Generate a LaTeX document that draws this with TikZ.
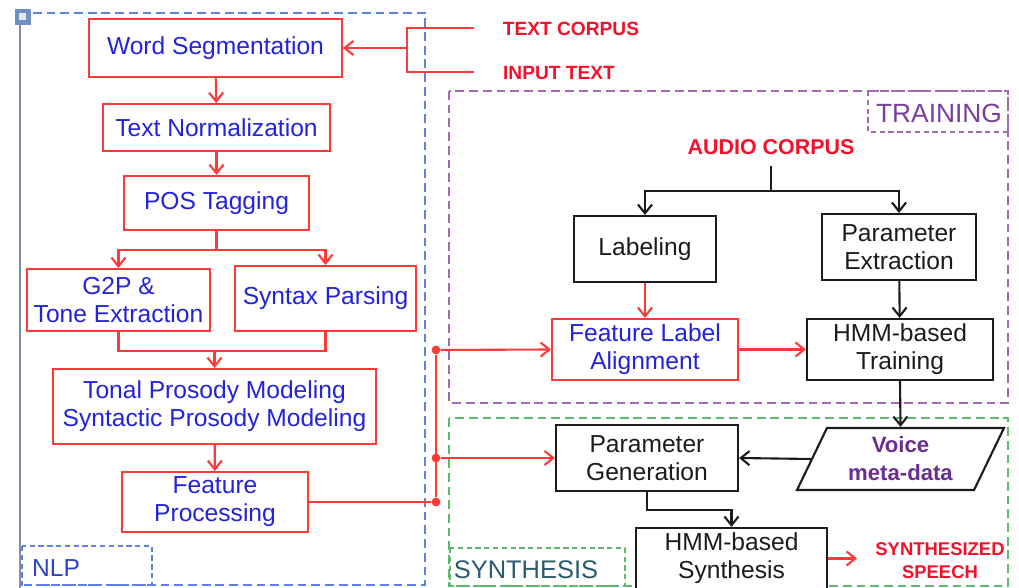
\documentclass[tikz,border=0pt]{standalone}
\usepackage{fontspec}
\setmainfont{Liberation Sans}
\usepackage{xcolor}
\usepackage{tikz}
\usetikzlibrary{positioning, arrows.meta, shapes.geometric, calc}
\definecolor{boxred}{HTML}{FF3838}
\definecolor{boxblue}{HTML}{2323DC}
\definecolor{srcred}{HTML}{F5102A}
\definecolor{nlpdash}{HTML}{5F82E2}
\definecolor{nlpblue}{HTML}{2B44CC}
\definecolor{traindash}{HTML}{A36AB3}
\definecolor{trainpurple}{HTML}{7A3E9D}
\definecolor{synthdash}{HTML}{5DB96B}
\definecolor{synthteal}{HTML}{2A5C6E}
\definecolor{voicepurple}{HTML}{6B2D90}
\definecolor{ink}{HTML}{1C1C1C}
\definecolor{edgegray}{HTML}{7F8EA6}
\definecolor{handle}{HTML}{6C8FC4}

\begin{document}
\begin{tikzpicture}[
  x=0.02cm, y=-0.02cm,
  every node/.style={align=center},
  nlpstep/.style={
    rectangle, draw=boxred, line width=1.1pt, fill=white, text=boxblue,
    font=\fontsize{14}{16}\selectfont, inner sep=0pt
  },
  hmmstep/.style={
    rectangle, draw=ink, line width=1.2pt, fill=white, text=ink,
    font=\fontsize{14}{16}\selectfont, inner sep=0pt
  },
  region/.style={line width=1pt, dash pattern=on 5pt off 2.8pt},
  regiontag/.style={line width=0.8pt, dash pattern=on 3pt off 2pt},
  src/.style={text=srcred, inner sep=1pt},
  redline/.style={draw=boxred, line width=1.2pt},
  redflow/.style={-{Straight Barb[length=5pt,width=8pt]}, redline},
  blkline/.style={draw=ink, line width=1.2pt},
  blkflow/.style={-{Straight Barb[length=5pt,width=8pt]}, blkline},
  busdot/.style={circle, fill=boxred, inner sep=0pt, minimum size=5pt},
]
\useasboundingbox (0,0) rectangle (1019,588);

% regions
\draw[region, draw=nlpdash] (20,13) rectangle (425,585);
\draw[edgegray, line width=1.4pt] (20,20) -- (20,590);
\fill[handle] (15,9) rectangle (31,25);
\fill[white!80!handle] (19,13) rectangle (26,20);
\draw[region, draw=traindash] (449,91) rectangle (1008,403);
\draw[region, draw=synthdash] (449,418) rectangle (1008,586);
\draw[regiontag, draw=nlpdash] (22,546) rectangle (152,585);
\draw[regiontag, draw=traindash] (868,91) rectangle (1008,132);
\draw[regiontag, draw=synthdash] (450,548) rectangle (625,586);
\node[text=nlpblue, font=\fontsize{14}{16}\selectfont] (nlptag) at (56,568) {NLP};
\node[text=trainpurple, font=\fontsize{15}{16}\selectfont] (traintag) at (939,113) {TRAINING};
\node[text=synthteal, font=\fontsize{14.5}{16}\selectfont] (synthtag) at (526,570) {SYNTHESIS};

% NLP front end
\node[nlpstep, minimum width=5.06cm, minimum height=1.16cm] (wordseg)  at (215.5,48)  {Word Segmentation};
\node[nlpstep, minimum width=4.54cm, minimum height=0.94cm] (textnorm) at (216.5,127.5) {Text Normalization};
\node[nlpstep, minimum width=3.70cm, minimum height=1.08cm] (pos)      at (216.5,203) {POS Tagging};
\node[nlpstep, minimum width=3.66cm, minimum height=1.24cm] (g2p)      at (118.5,300) {G2P \&\\Tone Extraction};
\node[nlpstep, minimum width=3.62cm, minimum height=1.30cm] (syntax)   at (325.5,298.5) {Syntax Parsing};
\node[nlpstep, minimum width=6.46cm, minimum height=1.50cm] (tonal)    at (214.5,406.5) {Tonal Prosody Modeling\\Syntactic Prosody Modeling};
\node[nlpstep, minimum width=3.72cm, minimum height=1.20cm] (featproc) at (215,502)   {Feature\\Processing};

% sources
\node[src, font=\bfseries\fontsize{10.9}{13}\selectfont] (textcorpus) at (571,29)  {TEXT CORPUS};
\node[src, font=\bfseries\fontsize{10.9}{13}\selectfont] (inputtext)  at (559,73)  {INPUT TEXT};
\node[src, font=\bfseries\fontsize{12.2}{13}\selectfont] (audio)      at (771,147) {AUDIO CORPUS};
\node[src, font=\bfseries\fontsize{10.5}{13}\selectfont] (speech)     at (940,560.5) {SYNTHESIZED\\SPEECH};

% training
\node[hmmstep, minimum width=2.84cm, minimum height=1.32cm] (labeling) at (645,249)   {Labeling};
\node[hmmstep, minimum width=3.08cm, minimum height=1.32cm] (paramext) at (899,247)   {Parameter\\Extraction};
\node[nlpstep, minimum width=3.72cm, minimum height=1.22cm] (fla)      at (645,349.5) {Feature Label\\Alignment};
\node[hmmstep, minimum width=3.72cm, minimum height=1.22cm] (hmmtrain) at (900,349.5) {HMM-based\\Training};

% synthesis
\node[hmmstep, minimum width=3.64cm, minimum height=1.32cm] (paramgen) at (647,458)   {Parameter\\Generation};
\node[trapezium, trapezium left angle=56, trapezium right angle=124, trapezium stretches body,
      draw=ink, line width=1.2pt, fill=white, text=voicepurple, inner sep=0pt,
      font=\bfseries\fontsize{12.6}{16}\selectfont,
      minimum width=4.14cm, minimum height=1.24cm] (voice) at (900.5,459) {Voice\\meta-data};
\node[hmmstep, minimum width=3.82cm, minimum height=1.22cm] (hmmsynth) at (731.5,558.5) {HMM-based\\Synthesis};

% junction points
\coordinate (tcend)   at (474,28);
\coordinate (itend)   at (474,72);
\coordinate (srcjoin) at (407,48);
\coordinate (merge)   at (214.5,350);
\coordinate (atop)    at (771,166);
\coordinate (asplit)  at (771,191);
\coordinate (spkend)  at (857,558.5);
\node[busdot] (bus1) at (436,350) {};
\node[busdot] (bus2) at (436,458) {};
\node[busdot] (bus3) at (436,502) {};

% text path
\draw[redline] (tcend) -- (407,28) -- (407,72) -- (itend);
\draw[redflow] (srcjoin) -- (wordseg.east);
\draw[redflow] (wordseg) -- (textnorm);
\draw[redflow] (textnorm) -- (pos);
\draw[redflow] (pos.south) -- ++(0,19) -| (g2p.north);
\draw[redflow] (pos.south) -- ++(0,19) -| (syntax.north);
\draw[redline] (g2p.south) -- ++(0,19) -| (syntax.south);
\draw[redflow] (merge) -- (tonal.north);
\draw[redflow] (tonal) -- (featproc);
\draw[redline] (featproc.east) -- (bus3);
\draw[redline] (bus3) -- (bus1);
\draw[redflow] (bus1) -- (fla.west);
\draw[redflow] (bus2) -- (paramgen.west);

% audio path
\draw[blkline] (atop) -- (asplit);
\draw[blkflow] (asplit) -| (labeling.north);
\draw[blkflow] (asplit) -| (paramext.north);
\draw[redflow] (labeling) -- (fla);
\draw[blkflow] (paramext) -- (hmmtrain);
\draw[redflow] (fla) -- (hmmtrain);
\draw[blkflow] (hmmtrain.south) -- (voice.north);
\draw[blkflow] (voice.west) -- (paramgen.east);
\draw[blkflow] (paramgen.south) -- ++(0,18) -| (hmmsynth.north);
\draw[redflow] (hmmsynth.east) -- (spkend);
\end{tikzpicture}
\end{document}
